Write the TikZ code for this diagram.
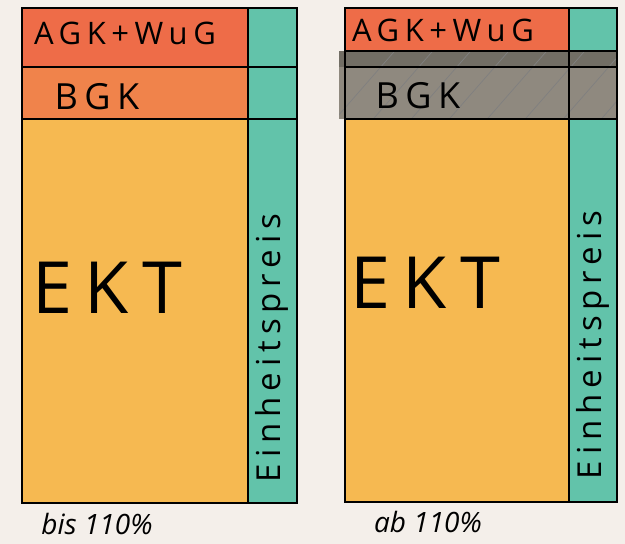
\documentclass[tikz,border=0pt]{standalone}
\usepackage{fontspec}
\setmainfont{Open Sans}
\usepackage{xcolor}
\usepackage{tikz}
\definecolor{paper}{HTML}{F4EFEA}
\definecolor{agk}{HTML}{EE6C48}
\definecolor{bgk}{HTML}{F0834B}
\definecolor{ekt}{HTML}{F6B951}
\definecolor{einh}{HTML}{62C3AA}
\definecolor{grau}{HTML}{8F897F}
\tikzset{
  pen/.style={line width=2.6pt,black},
  hand/.style={inner sep=0pt,font=\fontsize{#1}{#1}\selectfont\addfontfeature{LetterSpace=18}},
  hatch/.style={line width=0.7pt,black!50}
}

\begin{document}
\begin{tikzpicture}[x=1pt,y=-1pt]
\useasboundingbox(0,0)rectangle(625,544);
\fill[paper](0,0)rectangle(625,544);
% bis 110 %
\fill[agk](22,8)rectangle(248,67);
\fill[bgk](22,67)rectangle(248,119);
\fill[ekt](22,119)rectangle(248,503);
\fill[einh](248,8)rectangle(297,503);
\draw[pen](22,8)rectangle(297,503)
(248,8)--(248,503)
(22,67)--(297,67)
(22,119)--(297,119);
\node[hand=31](agkL)at(125,33){AGK+WuG};
\node[hand=36](bgkL)at(97,97){BGK};
\node[hand=72](ektL)at(107,288){EKT};
\node[hand=33,rotate=90](einhL)at(272,348){Einheitspreis};
\node[hand=28,font=\fontsize{28}{28}\selectfont\itshape](bisL)at(97,524){bis 110\%};
% ab 110 %
\fill[agk](345,8)rectangle(569,51);
\fill[ekt](345,119)rectangle(569,502);
\fill[einh](569,8)rectangle(617,502);
\fill[grau!80!black](339,51)rectangle(617,67);
\fill[grau](339,67)rectangle(617,119);
\begin{scope}
\clip(339,51)rectangle(617,119);
\foreach \i in {0,...,8}
  \draw[hatch](330+\i*38,125)--++(70,-80);
\end{scope}
\draw[pen](345,8)rectangle(617,502)
(569,8)--(569,502)
(345,51)--(617,51)
(345,67)--(617,67)
(345,119)--(617,119);
\node[hand=31](agkR)at(443,30){AGK+WuG};
\node[hand=36](bgkR)at(418,96){BGK};
\node[hand=72](ektR)at(425,283){EKT};
\node[hand=33,rotate=90](einhR)at(593,345){Einheitspreis};
\node[hand=28,font=\fontsize{28}{28}\selectfont\itshape](abR)at(428,522){ab 110\%};
\end{tikzpicture}
\end{document}
